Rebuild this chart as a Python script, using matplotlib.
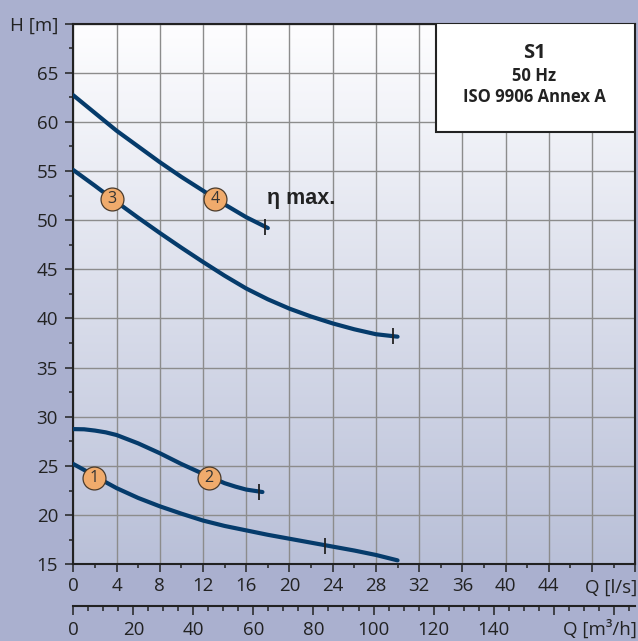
import numpy as np
import matplotlib
matplotlib.use("Agg")
import matplotlib.pyplot as plt
from matplotlib.ticker import MultipleLocator
from matplotlib.patches import Rectangle

plt.rcParams['font.family'] = ['Open Sans', 'DejaVu Sans']

# pump curves: Q [l/s] -> H [m]
q1 = [0, 1, 2, 3, 4, 6, 8, 10, 12, 14, 16, 18, 20, 22, 24, 26, 28, 30]
h1 = [25.2, 24.6, 23.95, 23.35, 22.75, 21.75, 20.9, 20.15, 19.45, 18.9, 18.45, 18.0, 17.6, 17.2, 16.8, 16.4, 15.95, 15.4]
q2 = [0, 1, 2, 3, 4, 6, 8, 10, 12, 14, 15, 16, 17.5]
h2 = [28.75, 28.73, 28.6, 28.42, 28.15, 27.3, 26.3, 25.2, 24.2, 23.25, 22.9, 22.6, 22.35]
q3 = [0, 2, 4, 6, 8, 10, 12, 14, 16, 18, 20, 22, 24, 26, 28, 30]
h3 = [55.1, 53.5, 51.85, 50.25, 48.7, 47.2, 45.75, 44.35, 43.05, 41.95, 41.0, 40.2, 39.5, 38.9, 38.4, 38.15]
q4 = [0, 2, 4, 6, 8, 10, 12, 14, 16, 18]
h4 = [62.7, 60.9, 59.1, 57.5, 55.9, 54.4, 53.0, 51.6, 50.3, 49.2]

# best efficiency marks
eta_q = [23.3, 17.2, 29.6, 17.75]
eta_h = [16.9, 22.4, 38.2, 49.35]

# numbered curve labels
lab_txt = ['1', '2', '3', '4']
lab_q = [1.94, 12.56, 3.55, 13.15]
lab_h = [23.8, 23.8, 52.2, 52.2]

xticks = list(range(0, 53, 4))
xlabels = [str(v) for v in range(0, 45, 4)] + ['', '']
yticks = list(range(15, 71, 5))
ylabels = [str(v) for v in range(15, 66, 5)] + ['H [m]']
m3ticks = list(range(0, 181, 20))
m3labels = [str(v) for v in range(0, 141, 20)] + ['', '']

bg = '#aab0cf'
line_c = '#053b6b'
ink = '#222222'
fs = 13.5

fig = plt.figure(figsize=(6.38, 6.41), dpi=100, facecolor=bg)
ax = fig.add_axes([73.3 / 638, 1 - 564.3 / 641, 562 / 638, 540.8 / 641])
ax.set_xlim(0, 52)
ax.set_ylim(15, 70)

# gradient background
top = np.array([0.995, 0.995, 1.0])
bot = np.array([0.725, 0.752, 0.847])
t = np.linspace(0, 1, 256)[:, None]
grad = (top * (1 - t) + bot * t)[:, None, :]
ax.imshow(grad, extent=[0, 52, 15, 70], aspect='auto', zorder=0, origin='upper')

ax.set_axisbelow(True)
ax.grid(True, color='#8c8c8c', lw=1.0)
ax.set_xticks(xticks, xlabels)
ax.set_yticks(yticks, ylabels)
ax.xaxis.set_minor_locator(MultipleLocator(2))
ax.yaxis.set_minor_locator(MultipleLocator(2.5))
ax.tick_params(which='major', length=6, width=1.1, color=ink, labelsize=fs, labelcolor=ink)
ax.tick_params(axis='y', which='major', pad=5)
ax.tick_params(axis='x', which='major', pad=3)
ax.tick_params(which='minor', length=3.2, width=1.1, color=ink)
for s in ax.spines.values():
    s.set_linewidth(1.5)
    s.set_color(ink)

for q, h in [(q1, h1), (q2, h2), (q3, h3), (q4, h4)]:
    ax.plot(q, h, color=line_c, lw=3.0, solid_capstyle='round', solid_joinstyle='round', zorder=3)

ax.plot(eta_q, eta_h, ls='none', marker='|', ms=11, mew=1.3, color=ink, zorder=4)

for s, q, h in zip(lab_txt, lab_q, lab_h):
    ax.plot(q, h, 'o', ms=16.5, mfc='#f0ab6c', mec='#4a3b2c', mew=0.9, zorder=5)
    ax.text(q, h, s, ha='center', va='center', fontsize=11.5, color='#333333', zorder=6)

ax.text(17.9, 52.25, 'η max.', ha='left', va='center', fontsize=15.5,
        fontweight='bold', family=['Liberation Sans', 'DejaVu Sans'], color=ink, zorder=6)

# info box
ax.add_patch(Rectangle((0.645, 0.799), 0.355, 0.201, transform=ax.transAxes,
                       facecolor='white', edgecolor=ink, lw=1.5, zorder=7))
ax.text(0.82, 0.9455, 'S1', transform=ax.transAxes, ha='center', va='center',
        fontsize=14.5, fontweight='bold', color=ink, zorder=8)
ax.text(0.82, 0.903, '50 Hz', transform=ax.transAxes, ha='center', va='center',
        fontsize=12, fontweight='bold', color=ink, zorder=8)
ax.text(0.82, 0.864, 'ISO 9906 Annex A', transform=ax.transAxes, ha='center', va='center',
        fontsize=12, fontweight='bold', color=ink, zorder=8)

# second flow axis in m3/h
sec = ax.secondary_xaxis(-41.7 / 540.8, functions=(lambda q: q * 3.6, lambda m: m / 3.6))
sec.set_xticks(m3ticks, m3labels)
sec.xaxis.set_minor_locator(MultipleLocator(5))
sec.tick_params(which='major', length=6.5, width=1.1, color=ink, labelsize=fs, labelcolor=ink, pad=4.5)
sec.tick_params(which='minor', length=3.4, width=1.1, color=ink)
sec.spines['bottom'].set_linewidth(1.5)
sec.spines['bottom'].set_color(ink)

fig.text(637 / 638, 1 - 593 / 641, 'Q [l/s]', ha='right', va='baseline', fontsize=fs, color=ink)
fig.text(637 / 638, 1 - 635 / 641, 'Q [m³/h]', ha='right', va='baseline', fontsize=fs, color=ink)

fig.savefig('out.png', dpi=100, facecolor=bg)
